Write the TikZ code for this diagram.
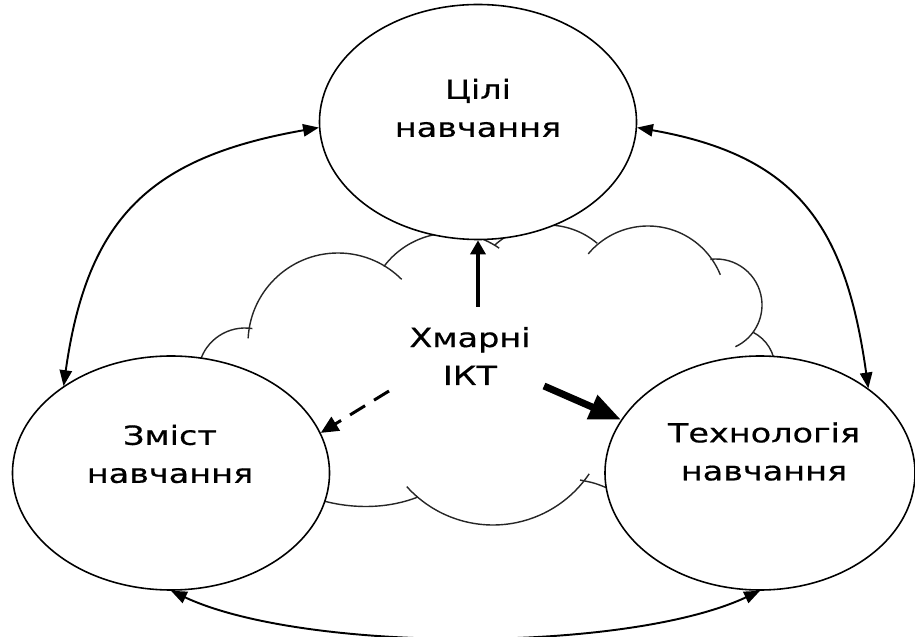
\documentclass[tikz,border=0pt]{standalone}
\usepackage{fontspec}
\newfontfamily\diagfont{DejaVu Sans}[FakeStretch=1.27,FakeBold=0.6]
\usepackage{tikz}
\usetikzlibrary{positioning,shapes.geometric,arrows.meta}

\begin{document}
\begin{tikzpicture}
[font=\diagfont\fontsize{15}{21.6}\selectfont,
    every node/.style={align=center, inner sep=0pt},
    bubble/.style={ellipse, draw=black, line width=0.9pt, fill=white,
        minimum width=6.34cm, minimum height=4.7cm},
    puff/.style={draw=black!85, line width=0.8pt},
    link/.style={line width=1.1pt, >={Triangle[length=9pt,width=7pt]}, <->},
    feed/.style={line width=2.2pt, -{Triangle[length=8pt,width=8.5pt]}},
    weak/.style={line width=1.7pt, dash pattern=on 10pt off 6pt,
        -{Triangle[length=10pt,width=9pt]}},
    strong/.style={line width=4pt, -{Triangle[length=18pt,width=14pt]}}
    ]
    \useasboundingbox (0,0) rectangle (18.3,-12.74);

    % cloud behind the three circles
    \draw[puff] (4.90,-7.50) ++(165:0.94) arc[start angle=165, end angle=81, radius=0.94];
    \draw[puff] (6.76,-6.86) ++(177:1.8) arc[start angle=177, end angle=45, radius=1.8];
    \draw[puff] (9.02,-6.34) ++(143:1.68) arc[start angle=143, end angle=55, radius=1.68];
    \draw[puff] (10.94,-6.06) ++(132:1.56) arc[start angle=132, end angle=50, radius=1.56];
    \draw[puff] (12.96,-6.08) ++(140:1.56) arc[start angle=140, end angle=22, radius=1.56];
    \draw[puff] (14.32,-6.10) ++(97:0.92) arc[start angle=97, end angle=-65, radius=0.92];
    \draw[puff] (14.70,-7.36) ++(63:0.8) arc[start angle=63, end angle=0, radius=0.8];
    \draw[puff] (9.86,-8.18) ++(222:2.32) arc[start angle=222, end angle=326, radius=2.32];
    \draw[puff] (6.4,-10.0) .. controls (7.1,-10.2) and (7.8,-10.16) .. (8.36,-9.94);
    \draw[puff] (11.6,-9.6) .. controls (11.9,-9.66) .. (12.24,-9.8);

    % circles
    \node[bubble] (cili) at (9.56,-2.44) {};
    \node[bubble, minimum height=4.68cm] (zmist) at (3.42,-9.46) {};
    \node[bubble, minimum width=6.2cm, minimum height=4.68cm] (tekh) at (15.2,-9.46) {};

    \node (cilit) at (9.56,-2.16) {Цілі\\навчання};
    \node (zmistt) at (3.4,-9.08) {Зміст\\навчання};
    \node (tekht) at (15.28,-9.03) {Технологія\\навчання};
    \node (ikt) at (9.4,-7.12) {Хмарні\\ІКТ};

    % links between the circles
    \draw[link] (zmist.141) to[out=82, in=190, looseness=1.2] (cili.182);
    \draw[link] (cili.358) to[out=-10, in=98, looseness=1.2] (tekh.38);
    \draw[link] (zmist.south) to[out=-25, in=-155, looseness=0.64] (tekh.south);

    % influence of the cloud
    \draw[feed] ([shift={(0.16,0.98)}]ikt.center) -- (cili.south);
    \draw[weak] ([shift={(-1.62,-0.7)}]ikt.center) -- (zmist.15);
    \draw[strong] ([shift={(1.48,-0.6)}]ikt.center) -- (tekh.159);
\end{tikzpicture}
\end{document}
